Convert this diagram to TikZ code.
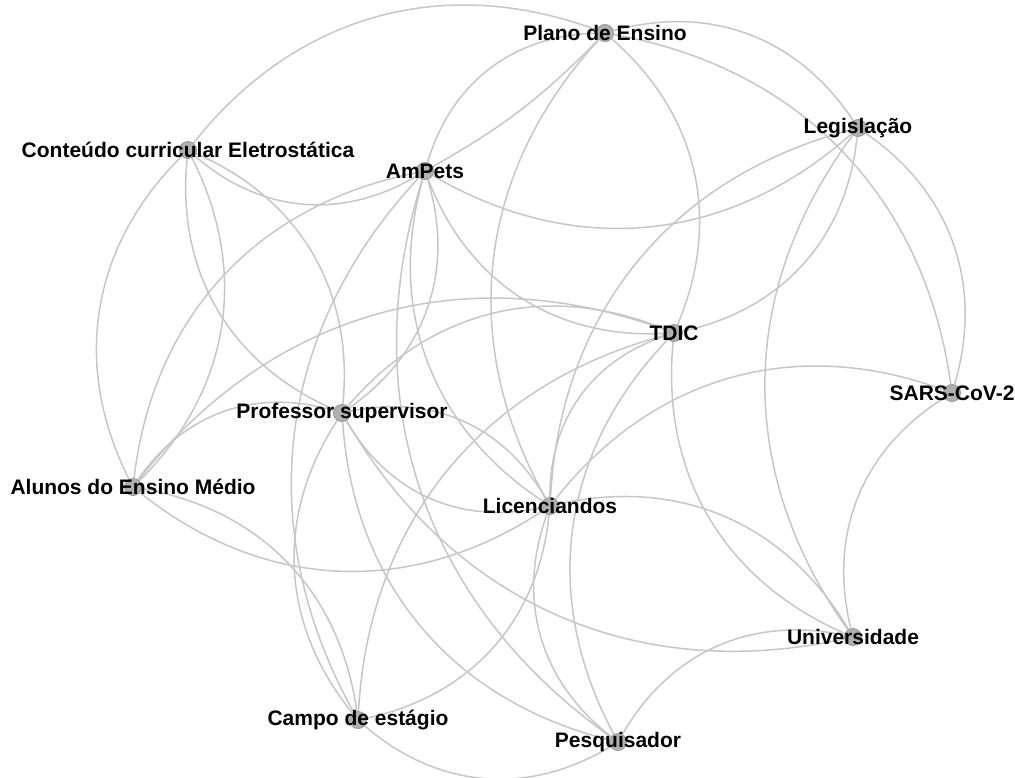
\documentclass[tikz,border=0pt]{standalone}
\usepackage{fontspec}
\setmainfont{Liberation Sans}
\usepackage{xcolor}
\usetikzlibrary{backgrounds}
\definecolor{edgegray}{HTML}{C6C6C6}
\definecolor{dotgray}{HTML}{B0B0B0}

\begin{document}
\begin{tikzpicture}[x=1pt,y=-1pt]
\tikzset{vertex/.style={circle,fill=dotgray,draw=gray!80,line width=0.9pt,minimum size=17pt,inner sep=0pt}}
\tikzset{vlabel/.style={font=\fontsize{21}{25}\selectfont\bfseries,text=black,inner sep=0pt}}
\tikzset{link/.style={draw=edgegray,line width=1.5pt}}
\tikzset{bl/.style={bend left=36},br/.style={bend right=36}}

\useasboundingbox (0,0) rectangle (1015,777);

% vertices
\node[vertex] (plano) at (605,33) {};
\node[vertex] (legis) at (858,128) {};
\node[vertex] (conteudo) at (188,150) {};
\node[vertex] (ampets) at (425,171) {};
\node[vertex] (tdic) at (674,333) {};
\node[vertex] (sars) at (952,393) {};
\node[vertex] (profsup) at (342,413) {};
\node[vertex] (alunos) at (133,487) {};
\node[vertex] (licenc) at (550,506) {};
\node[vertex] (univ) at (853,637) {};
\node[vertex] (campo) at (358,720) {};
\node[vertex] (pesq) at (618,742) {};

\node[vlabel] (plano-t) at (plano) {Plano de Ensino};
\node[vlabel] (legis-t) at (legis) {Legislação};
\node[vlabel] (conteudo-t) at (conteudo) {Conteúdo curricular Eletrostática};
\node[vlabel] (ampets-t) at (ampets) {AmPets};
\node[vlabel] (tdic-t) at (tdic) {TDIC};
\node[vlabel] (sars-t) at (sars) {SARS-CoV-2};
\node[vlabel] (profsup-t) at (profsup) {Professor supervisor};
\node[vlabel] (alunos-t) at (alunos) {Alunos do Ensino Médio};
\node[vlabel] (licenc-t) at (licenc) {Licenciandos};
\node[vlabel] (univ-t) at (univ) {Universidade};
\node[vlabel] (campo-t) at (campo) {Campo de estágio};
\node[vlabel] (pesq-t) at (pesq) {Pesquisador};

% edges
\begin{scope}[on background layer]
\draw[link] (conteudo) to[bl] (plano);
\draw[link] (conteudo) to[br] (ampets);
\draw[link] (conteudo) to[br] (alunos);
\draw[link] (conteudo) to[bl] (alunos);
\draw[link] (conteudo) to[bl] (profsup);
\draw[link] (conteudo) to[br] (profsup);
\draw[link] (ampets) to[bl] (plano);
\draw[link] (ampets) to[bend right=8] (plano);
\draw[link] (ampets) to[br] (legis);
\draw[link] (ampets) to[br] (tdic);
\draw[link] (ampets) to[bl] (profsup);
\draw[link] (ampets) to[br] (licenc);
\draw[link] (ampets) to[br] (pesq);
\draw[link] (ampets) to[br] (campo);
\draw[link] (alunos) to[bl] (ampets);
\draw[link] (plano) to[bl] (legis);
\draw[link] (plano) to[bl] (sars);
\draw[link] (plano) to[bl] (tdic);
\draw[link] (plano) to[br] (licenc);
\draw[link] (legis) to[bl] (sars);
\draw[link] (legis) to[bl] (tdic);
\draw[link] (legis) to[br] (univ);
\draw[link] (legis) to[br] (licenc);
\draw[link] (sars) to[br] (licenc);
\draw[link] (sars) to[br] (univ);
\draw[link] (tdic) to[br] (univ);
\draw[link] (tdic) to[br] (pesq);
\draw[link] (tdic) to[br] (licenc);
\draw[link] (tdic) to[br] (campo);
\draw[link] (alunos) to[bl] (tdic);
\draw[link] (profsup) to[bl] (tdic);
\draw[link] (alunos) to[bl] (profsup);
\draw[link] (alunos) to[br] (licenc);
\draw[link] (alunos) to[bl] (campo);
\draw[link] (profsup) to[bl] (licenc);
\draw[link] (profsup) to[br] (licenc);
\draw[link] (profsup) to[br] (univ);
\draw[link] (profsup) to[br] (pesq);
\draw[link] (profsup) to[br] (campo);
\draw[link] (licenc) to[bl] (univ);
\draw[link] (licenc) to[br] (pesq);
\draw[link] (licenc) to[bl] (campo);
\draw[link] (pesq) to[bl] (univ);
\draw[link] (campo) to[br] (pesq);
\end{scope}

\end{tikzpicture}
\end{document}
